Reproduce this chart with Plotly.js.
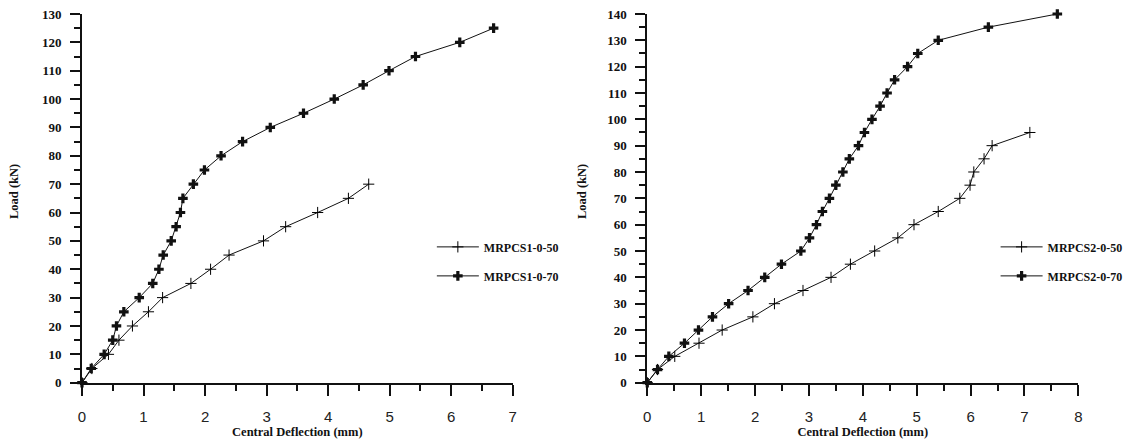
<!DOCTYPE html>
<html>
<head>
<meta charset="utf-8">
<script src="https://cdn.plot.ly/plotly-3.0.1.min.js"></script>
<style>html,body{margin:0;padding:0;background:#fff;}#chart{width:1132px;height:441px;}</style>
</head>
<body>
<div id="chart"></div>
<script>
// Left chart data (Central Deflection mm, Load kN)
const s1_50_x = [0, 0.16, 0.43, 0.60, 0.82, 1.08, 1.31, 1.77, 2.09, 2.39, 2.95, 3.31, 3.83, 4.33, 4.66];
const s1_50_y = [0, 5, 10, 15, 20, 25, 30, 35, 40, 45, 50, 55, 60, 65, 70];
const s1_70_x = [0, 0.15, 0.36, 0.50, 0.56, 0.68, 0.93, 1.15, 1.25, 1.32, 1.45, 1.53, 1.60, 1.64, 1.81, 1.99, 2.26, 2.61, 3.06, 3.60, 4.10, 4.57, 4.99, 5.42, 6.14, 6.69];
const s1_70_y = [0, 5, 10, 15, 20, 25, 30, 35, 40, 45, 50, 55, 60, 65, 70, 75, 80, 85, 90, 95, 100, 105, 110, 115, 120, 125];
// Right chart data
const s2_50_x = [0, 0.19, 0.51, 0.96, 1.39, 1.96, 2.36, 2.89, 3.41, 3.77, 4.22, 4.65, 4.95, 5.40, 5.80, 5.99, 6.06, 6.25, 6.40, 7.10];
const s2_50_y = [0, 5, 10, 15, 20, 25, 30, 35, 40, 45, 50, 55, 60, 65, 70, 75, 80, 85, 90, 95];
const s2_70_x = [0, 0.19, 0.40, 0.69, 0.95, 1.21, 1.51, 1.87, 2.18, 2.49, 2.85, 3.01, 3.14, 3.25, 3.38, 3.50, 3.63, 3.75, 3.92, 4.03, 4.17, 4.32, 4.45, 4.59, 4.83, 5.02, 5.40, 6.33, 7.61];
const s2_70_y = [0, 5, 10, 15, 20, 25, 30, 35, 40, 45, 50, 55, 60, 65, 70, 75, 80, 85, 90, 95, 100, 105, 110, 115, 120, 125, 130, 135, 140];
const names = ["MRPCS1-0-50", "MRPCS1-0-70", "MRPCS2-0-50", "MRPCS2-0-70"];
const yTitle = 'Load (kN)';
const xTitle = 'Central Deflection (mm)';

const thin = {symbol: 'cross-thin-open', size: 8, color: '#000', line: {color: '#000', width: 1}};
const bold = {symbol: 'cross', size: 8, color: '#111', line: {width: 0}};
const ln = {color: '#111', width: 1};

const traces = [
  {x: s1_50_x, y: s1_50_y, name: names[0], mode: 'lines+markers', line: ln, marker: thin, cliponaxis: false, xaxis: 'x', yaxis: 'y', legend: 'legend', legendgroup: 'a'},
  {x: s1_70_x, y: s1_70_y, name: names[1], mode: 'lines+markers', line: ln, marker: bold, cliponaxis: false, xaxis: 'x', yaxis: 'y', legend: 'legend', legendgroup: 'b'},
  {x: s2_50_x, y: s2_50_y, name: names[2], mode: 'lines+markers', line: ln, marker: thin, cliponaxis: false, xaxis: 'x2', yaxis: 'y2', legend: 'legend2', legendgroup: 'c'},
  {x: s2_70_x, y: s2_70_y, name: names[3], mode: 'lines+markers', line: ln, marker: bold, cliponaxis: false, xaxis: 'x2', yaxis: 'y2', legend: 'legend2', legendgroup: 'd'}
];

const serifB = {family: 'Liberation Serif, Times New Roman, serif', size: 13, color: '#111', weight: 'bold'};
const sans = {family: 'Liberation Sans Narrow, Liberation Sans, Arial, sans-serif', size: 15, color: '#222'};
const titleF = {family: 'Liberation Serif, Times New Roman, serif', size: 12.5, color: '#111', weight: 'bold'};

function xax(domain, maxv, anchor) {
  return {domain: domain, range: [0, maxv], anchor: anchor, showgrid: false, zeroline: false,
    showline: true, linewidth: 2, linecolor: '#111', ticks: 'outside', ticklen: 11, tickwidth: 2, tickcolor: '#111',
    dtick: 1, tick0: 0, tickfont: sans, ticklabelstandoff: 8,
    minor: {dtick: 0.5, ticks: 'outside', ticklen: 6, tickwidth: 2, tickcolor: '#111'},
    title: {text: xTitle, font: titleF, standoff: 0}};
}
function yax(maxv, anchor) {
  return {domain: [0.1322, 0.9683], range: [0, maxv], anchor: anchor, showgrid: false, zeroline: false,
    showline: true, linewidth: 2, linecolor: '#111', ticks: 'outside', ticklen: 10, tickwidth: 2, tickcolor: '#111',
    dtick: 10, tick0: 0, tickfont: serifB, ticklabelstandoff: 6,
    minor: {dtick: 5, ticks: 'outside', ticklen: 6, tickwidth: 2, tickcolor: '#111'}};
}

const legFont = {family: 'Liberation Serif, Times New Roman, serif', size: 12, color: '#111', weight: 'bold'};
const layout = {
  width: 1132, height: 441,
  margin: {l: 0, r: 0, t: 0, b: 0},
  paper_bgcolor: '#fff', plot_bgcolor: '#fff',
  showlegend: true,
  xaxis: xax([0.07244, 0.4529], 7, 'y'),
  yaxis: yax(130, 'x'),
  xaxis2: xax([0.5718, 0.9526], 8, 'y2'),
  yaxis2: yax(140, 'x2'),
  legend: {x: 0.3815, y: 0.4073, xanchor: 'left', yanchor: 'middle', font: legFont, bgcolor: 'rgba(0,0,0,0)', tracegroupgap: 10, traceorder: 'grouped', itemwidth: 42},
  legend2: {x: 0.8795, y: 0.4073, xanchor: 'left', yanchor: 'middle', font: legFont, bgcolor: 'rgba(0,0,0,0)', tracegroupgap: 10, traceorder: 'grouped', itemwidth: 42},
  annotations: [
    {text: yTitle, xref: 'paper', yref: 'paper', x: 14 / 1132, y: 0.5646, textangle: -90, showarrow: false, font: titleF, xanchor: 'center', yanchor: 'middle'},
    {text: yTitle, xref: 'paper', yref: 'paper', x: 582 / 1132, y: 0.5646, textangle: -90, showarrow: false, font: titleF, xanchor: 'center', yanchor: 'middle'}
  ]
};

Plotly.newPlot('chart', traces, layout, {displayModeBar: false, staticPlot: true});
</script>
</body>
</html>
